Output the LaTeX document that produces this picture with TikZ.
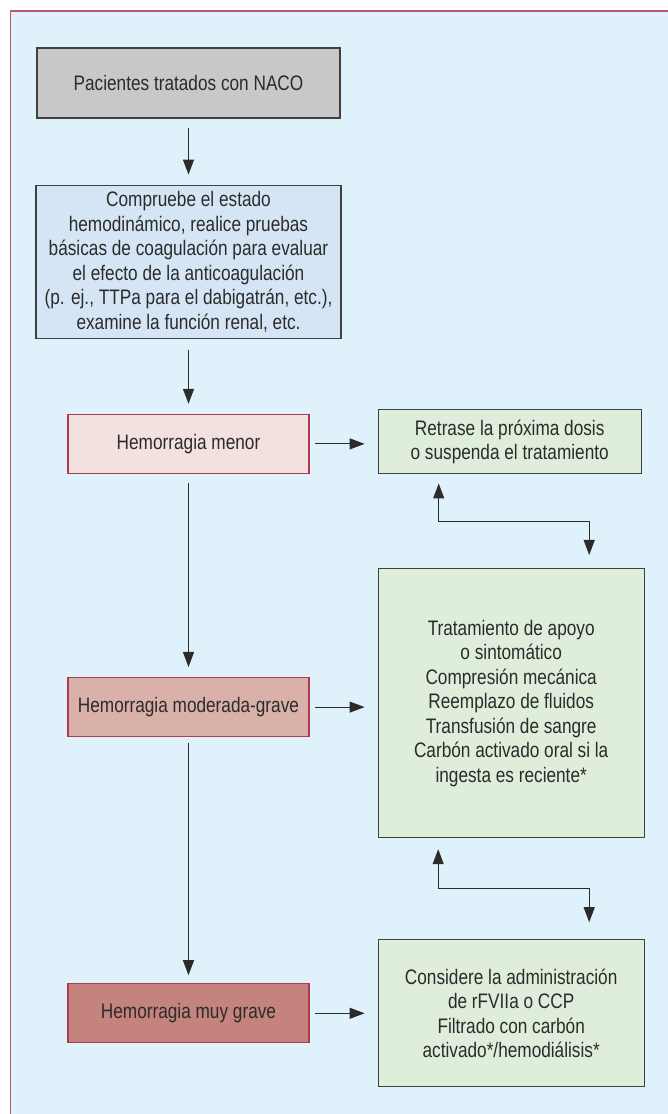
\documentclass[tikz,border=0pt]{standalone}
\usepackage{fontspec}
\setmainfont{Liberation Sans}[FakeStretch=0.82]
\usetikzlibrary{positioning, arrows.meta}

\definecolor{panelbg}{HTML}{DFF1FA}
\definecolor{panelline}{HTML}{B9596B}
\definecolor{greybox}{HTML}{C8C8C8}
\definecolor{bluebox}{HTML}{D5E5F5}
\definecolor{redline}{HTML}{B23A50}
\definecolor{minorfill}{HTML}{F2E1DE}
\definecolor{modfill}{HTML}{D9B1A9}
\definecolor{severefill}{HTML}{C5837D}
\definecolor{greenbox}{HTML}{DFEEDB}
\definecolor{ink}{HTML}{2B2B2B}

\begin{document}
\begin{tikzpicture}[
    x=1pt, y=1pt,
    node distance = 66pt,
    every node/.style={
        font=\fontsize{21}{24.5}\selectfont, text=ink, align=center
    },
    basebox/.style={
        draw=ink!90, line width=1.2pt, inner sep=2pt
    },
    patbox/.style={
        basebox, fill=greybox, minimum width=303pt, minimum height=70pt
    },
    evalbox/.style={
        basebox, fill=bluebox, minimum width=305pt, minimum height=153pt
    },
    bleedbox/.style={
        draw=redline, line width=1.2pt, inner sep=2pt, minimum width=241pt, minimum height=59pt
    },
    treatbox/.style={
        basebox, fill=greenbox, minimum width=266pt
    },
    arr/.style={
        -{Triangle[length=15pt, width=11pt]}, line width=1.1pt, draw=ink
    },
    dbl/.style={
        {Triangle[length=15pt, width=11pt]}-{Triangle[length=15pt, width=11pt]}, line width=1.1pt, draw=ink
    },
]

    \path[use as bounding box] (0,0) rectangle (667,1114);
    \draw[fill=panelbg, draw=panelline, line width=1.4pt] (10.5,-10) rectangle (680,1103);

    \node[patbox](pat) at (188.5,1031) {Pacientes tratados con NACO};
    \node[evalbox,below=of pat](eval) {Compruebe el estado\\hemodinámico, realice pruebas\\básicas de coagulación para evaluar\\el efecto de la anticoagulación\\(p. ej., TTPa para el dabigatrán, etc.),\\examine la función renal, etc.};
    \node[bleedbox,fill=minorfill,below=75pt of eval](minor) {Hemorragia menor};
    \node[bleedbox,fill=modfill,below=203pt of minor](moderate) {Hemorragia moderada-grave};
    \node[bleedbox,fill=severefill,below=246pt of moderate](severe) {Hemorragia muy grave};

    \node[treatbox,minimum width=263pt,minimum height=64pt,right=68pt of minor,yshift=2pt](delay) {Retrase la próxima dosis\\o suspenda el tratamiento};
    \node[treatbox,minimum height=269pt,right=68pt of moderate,yshift=4pt](support) {Tratamiento de apoyo\\o sintomático\\Compresión mecánica\\Reemplazo de fluidos\\Transfusión de sangre\\Carbón activado oral si la\\ingesta es reciente*};
    \node[treatbox,minimum height=147pt,right=68pt of severe](reverse) {Considere la administración\\de rFVIIa o CCP\\Filtrado con carbón\\activado*/hemodiálisis*};

    \draw[arr, shorten <=9pt, shorten >=10pt] (pat) to (eval);
    \draw[arr, shorten <=11pt, shorten >=10pt] (eval) to (minor);
    \draw[arr, shorten <=9pt, shorten >=10pt] (minor) to (moderate);
    \draw[arr, shorten <=6pt, shorten >=8pt] (moderate) to (severe);

    \draw[arr, shorten <=5pt, shorten >=13pt] (minor.east) to (minor.east -| delay.west);
    \draw[arr, shorten <=5pt, shorten >=13pt] (moderate.east) to (moderate.east -| support.west);
    \draw[arr, shorten <=5pt, shorten >=13pt] (severe) to (reverse);

    % links between the treatment boxes
    \draw[dbl, shorten <=9pt, shorten >=13pt] ([xshift=-71pt]delay.south) -- ++(0,-47) -| ([xshift=78pt]support.north);
    \draw[dbl, shorten <=11pt, shorten >=17pt] ([xshift=-73pt]support.south) -- ++(0,-50) -| ([xshift=78pt]reverse.north);

\end{tikzpicture}
\end{document}
